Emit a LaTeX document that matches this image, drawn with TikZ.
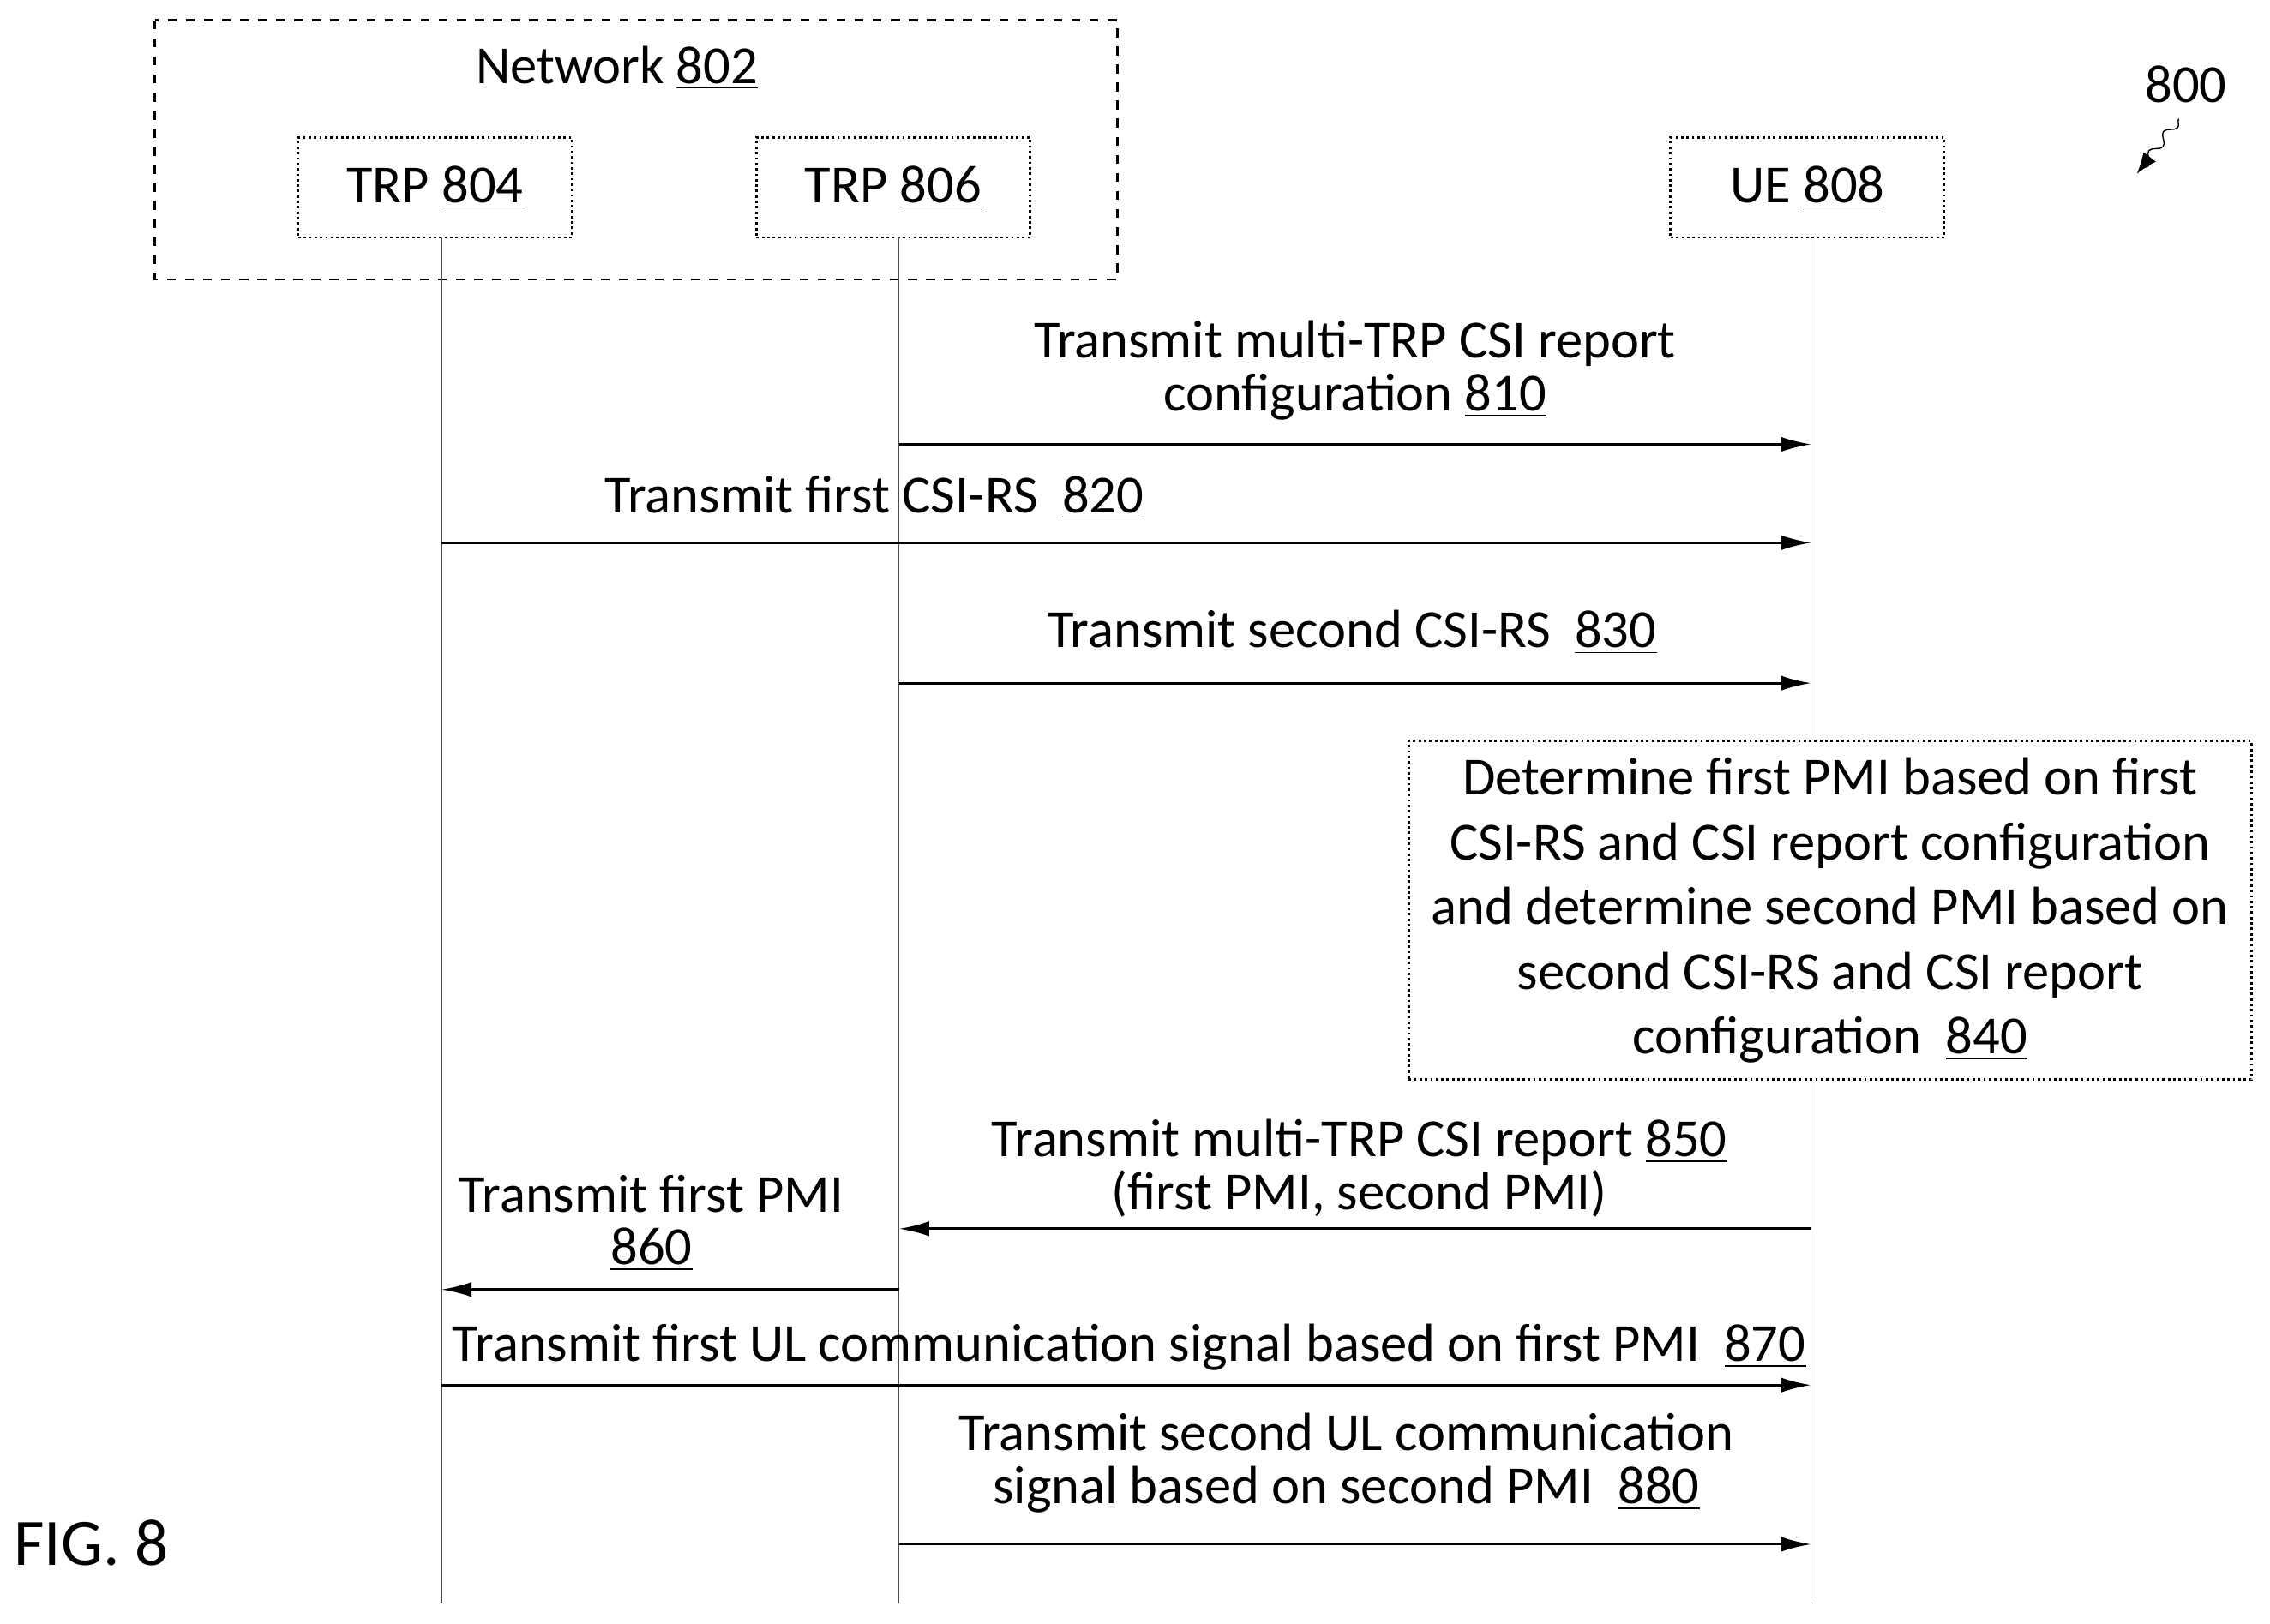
\documentclass[tikz,border=0pt]{standalone}
\usepackage{fontspec}
\setmainfont{Carlito}
\usetikzlibrary{arrows.meta,decorations.pathmorphing}
\begin{document}
\begin{tikzpicture}[x=0.01689cm,y=-0.01689cm,
  every node/.style={font=\fontsize{17.8}{17.5}\selectfont},
  ent/.style={draw,densely dotted,thick,minimum width=189*0.01689cm,minimum height=69*0.01689cm,inner sep=0pt},
  life/.style={draw=black!70,thin},
  msg/.style={-{Latex[length=10pt,width=5pt]},thick},
  lbl/.style={align=center,inner sep=0pt}]
\useasboundingbox (0,0) rectangle (1568,1122);
\draw[dashed,thick] (107,14) rectangle (772,193);
\node[lbl] (net) at (426,47) {Network \underline{802}};
\node[ent] (t1) at (300.5,129.5) {TRP \underline{804}};
\node[ent] (t2) at (617,129.5) {TRP \underline{806}};
\node[ent] (ue) at (1248.5,129.5) {UE \underline{808}};
\coordinate (e1) at (305,1108);
\coordinate (e2) at (621,1108);
\coordinate (e3) at (1251,1108);
\draw[life] (305,164) -- (e1);
\draw[life] (621,164) -- (e2);
\draw[life] (1251,164) -- (e3);
\node[lbl] (n800) at (1510,58) {800};
\coordinate (a800) at (1476,120);
\draw[-{Latex[length=7pt]},decorate,decoration={snake,amplitude=1.5pt,segment length=8pt}] (1505,82) -- (a800);
\coordinate (s1) at (621,307); \coordinate (d1) at (1251,307);
\draw[msg] (s1) -- (d1);
\node[lbl] (l810) at (936,256) {Transmit multi-TRP CSI report\\configuration \underline{810}};
\coordinate (s2) at (305,375); \coordinate (d2) at (1251,375);
\draw[msg] (s2) -- (d2);
\node[lbl] (l820) at (604,344) {Transmit first CSI-RS\ \ \underline{820}};
\coordinate (s3) at (621,472); \coordinate (d3) at (1251,472);
\draw[msg] (s3) -- (d3);
\node[lbl] (l830) at (934,437) {Transmit second CSI-RS\ \ \underline{830}};
\node[draw,densely dotted,thick,fill=white,minimum width=582*0.01689cm,minimum height=234*0.01689cm,align=center,inner sep=0pt,font=\fontsize{17.8}{21.5}\selectfont] (b840) at (1264,629)
 {Determine first PMI based on first\\CSI-RS and CSI report configuration\\and determine second PMI based on\\second CSI-RS and CSI report\\configuration\ \ \underline{840}};
\coordinate (s5) at (1251,849); \coordinate (d5) at (621,849);
\draw[msg] (s5) -- (d5);
\node[lbl] (l850) at (939,807) {Transmit multi-TRP CSI report \underline{850}\\(first PMI, second PMI)};
\coordinate (s6) at (621,891); \coordinate (d6) at (305,891);
\draw[msg] (s6) -- (d6);
\node[lbl] (l860) at (450,845) {Transmit first PMI\\\underline{860}};
\coordinate (s7) at (305,957); \coordinate (d7) at (1251,957);
\draw[msg] (s7) -- (d7);
\node[lbl] (l870) at (780,931) {Transmit first UL communication signal based on first PMI\ \ \underline{870}};
\coordinate (s8) at (621,1067); \coordinate (d8) at (1251,1067);
\draw[msg] (s8) -- (d8);
\node[lbl] (l880) at (930,1011) {Transmit second UL communication\\signal based on second PMI\ \ \underline{880}};
\node[lbl,font=\fontsize{22}{24}\selectfont] (fig) at (63,1066) {FIG. 8};
\end{tikzpicture}
\end{document}
